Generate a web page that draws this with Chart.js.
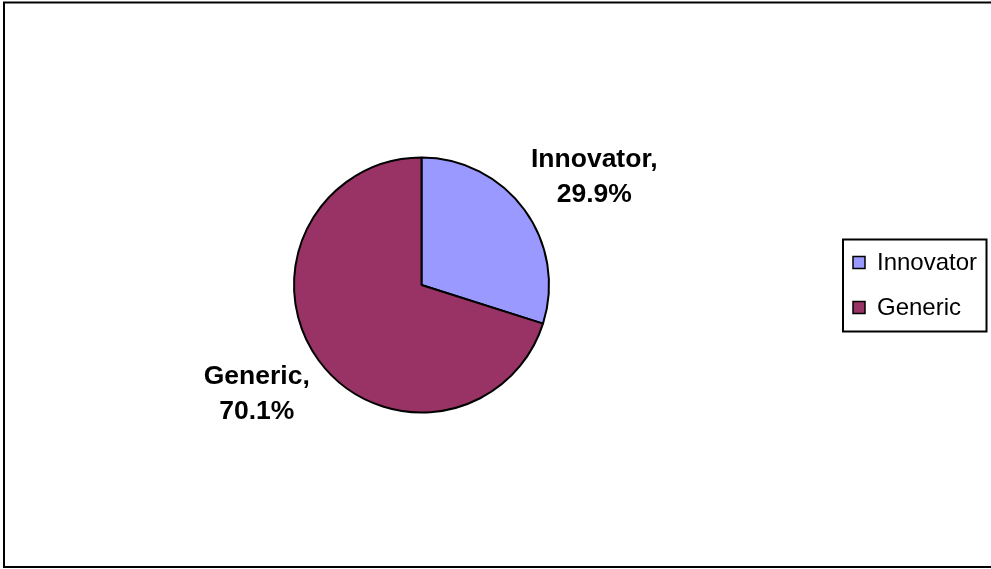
<!DOCTYPE html>
<html>
<head>
<meta charset="utf-8">
<script src="https://cdn.jsdelivr.net/npm/chart.js@4.4.0/dist/chart.umd.min.js"></script>
<style>
    body { margin: 0; background: #fff; }
    #shareChart { display: block; }
</style>
</head>
<body>
<canvas id="shareChart" width="991" height="569"></canvas>
<script>
// Dados do grafico
const categories = ['Innovator', 'Generic'];
const shares = [29.9, 70.1];
const sliceColors = ['#9999FF', '#993366'];

const FONT = '"Liberation Sans", Arial, sans-serif';

// Fundo branco e moldura externa
const framePlugin = {
    id: 'frame',
    beforeDraw(chart) {
        const ctx = chart.ctx;
        ctx.save();
        ctx.fillStyle = '#ffffff';
        ctx.fillRect(0, 0, chart.width, chart.height);
        ctx.strokeStyle = '#000000';
        ctx.lineWidth = 2;
        ctx.strokeRect(4, 2.5, chart.width + 10, chart.height - 4.5);
        ctx.restore();
    }
};

// Rotulos "Nome, xx.x%" fora de cada fatia
const sliceLabels = {
    id: 'sliceLabels',
    afterDatasetsDraw(chart) {
        const ctx = chart.ctx;
        const meta = chart.getDatasetMeta(0);
        ctx.save();
        ctx.font = 'bold 26.5px ' + FONT;
        ctx.fillStyle = '#000000';
        ctx.textAlign = 'center';
        ctx.textBaseline = 'middle';
        meta.data.forEach((arc, i) => {
            const mid = (arc.startAngle + arc.endAngle) / 2;
            const r = arc.outerRadius;
            const x = arc.x + Math.cos(mid) * r * 1.64 + 4;
            const y = arc.y + Math.sin(mid) * r * 1.44;
            ctx.fillText(chart.data.labels[i] + ',', x, y - 17);
            ctx.fillText(shares[i].toFixed(1) + '%', x, y + 18);
        });
        ctx.restore();
    }
};

// Legenda com caixa a direita
const boxLegend = {
    id: 'boxLegend',
    afterDraw(chart) {
        const ctx = chart.ctx;
        const left = 843, top = 239.5;
        ctx.save();
        ctx.strokeStyle = '#000000';
        ctx.lineWidth = 2;
        ctx.strokeRect(left, top, 143.5, 92);
        ctx.font = '24px ' + FONT;
        ctx.textBaseline = 'middle';
        chart.data.labels.forEach((label, i) => {
            const cy = top + 23 + i * 45;
            ctx.fillStyle = sliceColors[i];
            ctx.fillRect(853, cy - 6, 12, 12);
            ctx.lineWidth = 1.5;
            ctx.strokeRect(853, cy - 6, 12, 12);
            ctx.fillStyle = '#000000';
            ctx.fillText(label, 877, cy + 1);
        });
        ctx.restore();
    }
};

const shareCtx = document.getElementById('shareChart').getContext('2d');
const shareChart = new Chart(shareCtx, {
    type: 'pie',
    data: {
        labels: categories,
        datasets: [{
            data: shares,
            backgroundColor: sliceColors,
            borderColor: '#000000',
            borderWidth: 2
        }]
    },
    options: {
        responsive: false,
        animation: false,
        layout: {
            padding: { left: 293, right: 441, top: 156, bottom: 155 }
        },
        plugins: {
            legend: { display: false },
            tooltip: { enabled: false }
        }
    },
    plugins: [framePlugin, sliceLabels, boxLegend]
});
</script>
</body>
</html>
